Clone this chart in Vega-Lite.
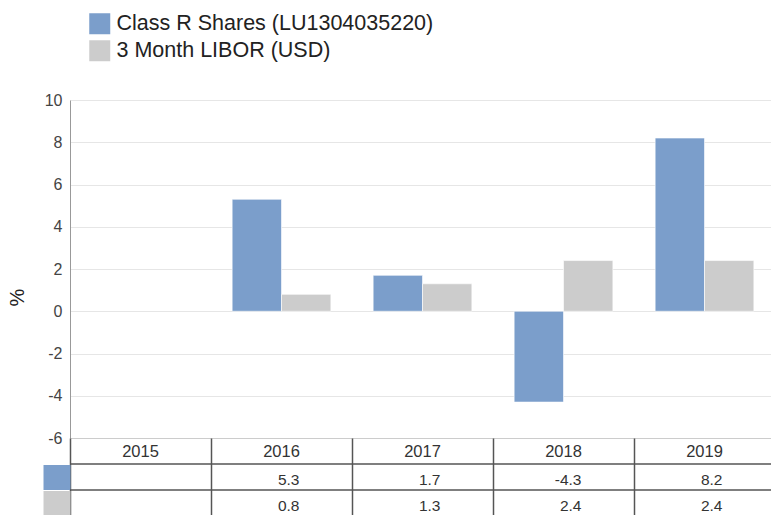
{
  "$schema": "https://vega.github.io/schema/vega-lite/v6.json",
  "padding": {"left": 7, "top": 13, "right": 0, "bottom": 0},
  "background": "white",
  "bounds": "flush",
  "config": {
    "font": "Liberation Sans",
    "view": {"stroke": null},
    "concat": {"spacing": 0}
  },
  "spacing": 0,
  "datasets": {
    "returns": [
      {"year": "2016", "series": "Class R Shares (LU1304035220)", "value": 5.3},
      {"year": "2017", "series": "Class R Shares (LU1304035220)", "value": 1.7},
      {"year": "2018", "series": "Class R Shares (LU1304035220)", "value": -4.3},
      {"year": "2019", "series": "Class R Shares (LU1304035220)", "value": 8.2},
      {"year": "2016", "series": "3 Month LIBOR (USD)", "value": 0.8},
      {"year": "2017", "series": "3 Month LIBOR (USD)", "value": 1.3},
      {"year": "2018", "series": "3 Month LIBOR (USD)", "value": 2.4},
      {"year": "2019", "series": "3 Month LIBOR (USD)", "value": 2.4}
    ],
    "years": [
      {"year": "2015"}, {"year": "2016"}, {"year": "2017"}, {"year": "2018"}, {"year": "2019"}
    ],
    "rows": [
      {"series": "Class R Shares (LU1304035220)"},
      {"series": "3 Month LIBOR (USD)"}
    ]
  },
  "vconcat": [
    {
      "width": 705,
      "height": 338,
      "data": {"name": "returns"},
      "mark": {"type": "bar", "stroke": "white", "strokeOpacity": 0.6, "strokeWidth": 1},
      "encoding": {
        "x": {
          "field": "year", "type": "nominal",
          "scale": {"domain": ["2015", "2016", "2017", "2018", "2019"], "paddingInner": 0.3, "paddingOuter": 0.15},
          "axis": {"labels": false, "ticks": false, "tickSize": 0, "labelPadding": 0, "maxExtent": 0, "minExtent": 0, "title": null, "domainColor": "#cccccc", "domainWidth": 1, "grid": false}
        },
        "xOffset": {
          "field": "series", "type": "nominal",
          "scale": {"domain": ["Class R Shares (LU1304035220)", "3 Month LIBOR (USD)"], "paddingInner": 0, "paddingOuter": 0}
        },
        "y": {
          "field": "value", "type": "quantitative",
          "scale": {"domain": [-6, 10], "nice": false, "zero": false},
          "axis": {
            "values": [-6, -4, -2, 0, 2, 4, 6, 8, 10],
            "labelExpr": "toString(datum.value)",
            "title": "%",
            "titleFontSize": 20,
            "titleFontWeight": "normal",
            "titleColor": "#222222",
            "titlePadding": 17,
            "titleY": 197,
            "labelFontSize": 16,
            "labelColor": "#444444",
            "labelPadding": 8,
            "ticks": false,
            "domainColor": "#999999",
            "gridColor": "#e6e6e6",
            "gridWidth": 1
          }
        },
        "color": {
          "field": "series", "type": "nominal",
          "scale": {"domain": ["Class R Shares (LU1304035220)", "3 Month LIBOR (USD)"], "range": ["#7b9ecb", "#cccccc"]},
          "legend": {
            "title": null,
            "orient": "none",
            "legendX": 19,
            "legendY": -87,
            "symbolType": "square",
            "symbolSize": 441,
            "symbolStrokeWidth": 0,
            "labelFontSize": 21.5,
            "labelColor": "#222222",
            "labelOffset": 6,
            "labelLimit": 600,
            "rowPadding": 4
          }
        }
      }
    },
    {
      "width": 705,
      "height": 78,
      "layer": [
        {
          "data": {"name": "years"},
          "mark": {"type": "text", "fontSize": 16.5, "color": "#333333", "dy": 1},
          "encoding": {
            "x": {
              "field": "year", "type": "nominal",
              "scale": {"domain": ["2015", "2016", "2017", "2018", "2019"], "paddingInner": 0, "paddingOuter": 0},
              "axis": {"labels": false, "ticks": false, "domain": false, "title": null, "grid": true, "tickBand": "extent", "gridColor": "#555555", "gridWidth": 1.5}
            },
            "y": {
              "datum": "Year", "type": "nominal",
              "scale": {"domain": ["Year", "Class R Shares (LU1304035220)", "3 Month LIBOR (USD)"], "paddingInner": 0, "paddingOuter": 0},
              "axis": {
                "labels": false, "domain": false, "title": null, "grid": false,
                "ticks": true, "tickSize": 27, "tickWidth": 25,
                "tickColor": {
                  "condition": [
                    {"test": "datum.value === 'Year'", "value": "transparent"},
                    {"test": "datum.value === 'Class R Shares (LU1304035220)'", "value": "#7b9ecb"}
                  ],
                  "value": "#cccccc"
                }
              }
            },
            "text": {"field": "year"}
          }
        },
        {
          "data": {"name": "rows"},
          "mark": {"type": "rule", "color": "#555555", "strokeWidth": 1.5},
          "encoding": {
            "y": {"field": "series", "type": "nominal", "bandPosition": 0}
          }
        },
        {
          "data": {"name": "returns"},
          "mark": {"type": "text", "fontSize": 15.5, "color": "#333333", "align": "right", "dx": 18, "dy": 3},
          "encoding": {
            "x": {"field": "year", "type": "nominal"},
            "y": {"field": "series", "type": "nominal"},
            "text": {"field": "value", "type": "nominal"}
          }
        }
      ]
    }
  ]
}
